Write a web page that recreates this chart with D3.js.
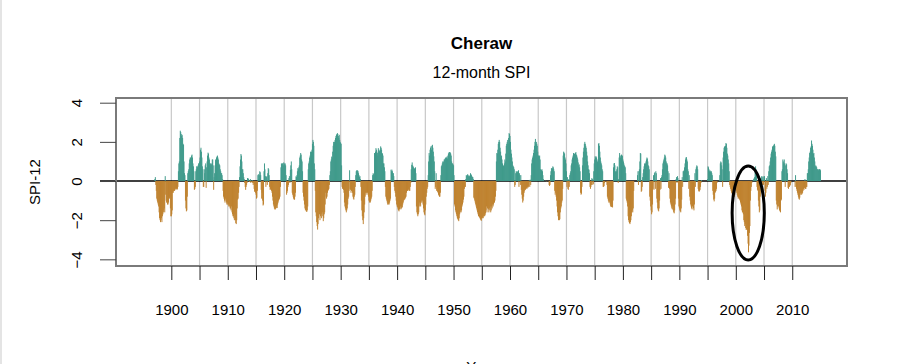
<!DOCTYPE html>
<html>
<head>
<meta charset="utf-8">
<script src="https://cdn.jsdelivr.net/npm/d3@7"></script>
<style>
  body { margin: 0; background: #fff; }
  svg { display: block; font-family: "Liberation Sans", Arial, sans-serif; }
</style>
</head>
<body>
<div id="chart"></div>
<script>
// Monthly SPI-12 values, one block per start month
const spi1897 = [
  0.1,0.2,-0.2,-0.5,-0.9,-1.0,-1.1,-1.2,-1.3,-1.6,-1.9,-2.0,
  -2.1,-2.0,-1.9,-2.1,-1.8,-1.7,-1.6,-1.5,-1.4,-1.6,0.25,-0.7,
  -1.0,-1.1,-1.1,-1.2,-1.2,-1.1,-0.8,-0.9,-0.8,-1.4,-1.8,-1.8,
  -1.7,-1.5,-0.6,-0.6,-0.5,-0.5,-0.5,-0.45,-0.4,-0.35,-0.4,-0.45,
  -0.4,-0.3,0.5,0.9,1.0,2.2,2.57,2.5,2.4,2.3,2.36,2.2,
  1.9,1.85,1.0,0.4,0.3,-1.0,-1.4,-1.55,-1.5,-0.8,0.4,0.5,
  0.6,0.9,1.1,1.2,1.2,1.15,1.3,1.35,1.2,0.9,0.75,0.5,
  -0.45,-0.4,-0.3,0.5,0.6,0.75,0.75,0.7,0.8,0.9,0.9,1.0,
  1.2,1.6,1.7,1.5,1.2,0.75,0.6,-0.3,-0.3,0.6,0.4,0.8,
  0.9,-0.35,0.7,1.0,1.3,1.45,1.4,1.2,1.1,0.9,0.9,0.8,
  0.85,0.9,1.1,1.1,0.8,-0.45,0.2,0.4,0.8,1.1,1.0,1.2,
  1.25,1.3,1.2,1.1,0.9,0.85,0.8,0.6,0.5,0.4,0.4,0.3,
  0.1,-0.5,-0.8,-0.9,-1.0,-1.1,-0.9,-1.0,-1.1,-1.2,-1.1,-1.2,
  -1.2,-1.3,-1.2,-1.3,-1.4,-1.4,-1.5,-1.3,-1.6,-1.7,-1.8,-1.8,
  -1.9,-2.0,-1.7,-2.0,-2.15,-2.2,-2.0,-1.4,-0.95,-0.9,-0.6,-0.3,
  0.2,0.75,1.1,1.38,1.3,1.0,0.6,0.6,0.4,0.2,0.1,-0.1,
  -0.3,-0.45,-0.3,-0.2,-0.1,0.15,0.15,0.1,0.0,-0.05,0.05,0.1,
  -0.1,-0.05,0.0,0.05,-0.1,-0.2,-0.1,-0.4,-0.55,-0.5,-0.6,-0.7,
  -0.9,-0.85,-0.5,0.3,0.35,0.1,0.3,0.5,0.45,0.3,-0.45,-0.9,-0.6
];
const spi1916 = [
  -1.0,-1.25,-1.2, 0.5,0.9,0.6, 0.25,-0.3,0.2,0.25,-0.2, 0.4,0.66,0.6,0.3,
  -0.3,-0.45,-0.4,-0.45,-0.5,-0.6, -0.8,-1.0,-1.2,-1.3,-1.4,-1.45,
  -1.45,-1.4,-1.38,-1.3,-1.38,-1.2,-1.1,-1.0, -0.95,-0.9,-0.8,-0.3,
  0.7,0.9,0.85,0.9,0.9,0.8,0.95,0.9,0.85,0.9,0.8,0.3,
  -0.7,-0.6,-0.5,-0.3, -0.2,0.15,0.25,-0.1, 0.57,0.8,1.0,0.6,
  -0.6,-0.7,-0.8,-0.9,-0.95,-0.95,-0.8,-0.6, 0.24,0.2,0.3, 0.5,0.66,0.6,0.7,0.8,
  1.2,1.3,1.43,1.35,1.1, 1.0,0.5,-0.6, -0.8,-1.0,-1.2,
  -1.4,-1.5,-1.45,-1.55,-1.58,-1.5,-1.3, 0.6,0.9,1.0,1.2, 1.3,1.5,1.45,1.5,1.6,
  1.9,2.1,2.0,1.8, 0.9,0.6,-0.5, -1.6,-1.8,-2.1,-2.3,-2.48,-2.2,-1.9,
  -1.5,-1.7,-2.0,-1.8,-1.6,-1.9,-1.7, -1.6,-1.8,-2.05,-1.9,-1.7,-1.6,-1.2,
  -0.6,-0.8,-0.9,-0.8,-0.6,-0.5,-0.45, -0.4,-0.2,0.3, 0.5,1.0,1.1,1.25,1.2,1.5,
  1.8,2.0,1.9,2.0,2.1,2.2, 2.3,2.36,2.4,2.45,2.4,2.3, 2.2,2.36,2.1,2.0,1.94,
  1.9,0.8,-0.3, -0.4,-0.35,-0.45,-0.6, -1.1,-1.3,-1.4,-1.5,-1.6,-1.5,-1.4,-1.2,-0.9,
  -0.8,-0.5,0.55, -0.4,-0.45,-0.6,-0.5,-0.5, -0.6,-0.8,-0.9,-0.95,-0.8,-0.7,-0.3,
  0.3,0.5,0.55,0.5,0.55,0.5,0.4,0.3,0.2, 0.25,0.1,-0.3,
  -1.0,-1.5,-1.8,-2.0,-2.2,-1.9,-1.6,-1.2,-0.8, -0.6,-0.7,-0.6,-0.5,-0.6,-0.7,-0.8,-1.0,
  -1.1,-1.05,-1.1,-1.0,-0.9,-0.8,-0.5, 0.3,0.4,0.35,0.3
];
const spi1935 = [
  1.43,1.4,1.5, 1.68,1.6,1.5, 1.43,1.3,1.68, 1.6,1.5,1.55, 1.6,1.77,1.7,1.6,1.43,
  1.4,1.3,0.9,0.9, 0.7,0.5,-0.3, -0.8,-0.9,-1.0,-1.1, -1.2,-1.2,-1.15,-1.2,-1.1,-1.0,-0.9,
  0.58,0.5,0.58,0.5,0.4, 0.4,0.25,-0.3, -0.5,-0.6,-0.8,-1.0,-1.2,-1.3,-1.35,-1.45,
  -1.5,-1.55,-1.45,-1.4,-1.3,-1.45, -1.4,-1.3,-1.35,-1.2,-1.1,-1.0,-0.95,
  -0.95,-0.9,-0.85,-0.8,-0.6,-0.5,-0.5, -0.5,-0.45,-0.4,-0.5,-0.5,-0.3,-0.1,
  0.6,0.83,0.95,0.8, 0.75,0.7,0.6,0.65,0.6,0.7,0.4,
  -1.3,-1.6,-1.7,-1.8,-1.7,-1.6,-1.3, -1.1,-1.2,-1.3,-1.1,-1.0,-1.1,-1.0,
  -1.2,-1.4,-1.6,-1.7,-1.75,-1.5,-1.2,-0.8,-0.6, -0.4,-0.3,0.3,1.0,
  1.43,1.3,1.6,1.7,1.77,1.6, 1.8,1.85,1.7,1.5, 1.26,1.0,0.5, -0.4,-0.3,0.4,
  -0.5,-0.4,-0.55,-0.6,-0.7,-0.75,-0.8, -0.8,-0.6,0.3,
  0.75,0.8,0.9,1.0,0.95,1.0,1.1, 1.1,1.15,1.2,1.1,1.2,1.25,1.15,1.3,1.4,1.45,1.48,
  1.48,1.45,1.4,1.3, 1.0,0.9,0.9,0.85,0.8,0.3,
  -1.2,-1.3,-1.5,-1.6,-1.7,-1.8,-1.9,-1.95,-2.0,-2.05,
  -1.9,-1.7,-1.6,-1.5,-1.6,-1.5,-1.3,-1.2,-1.1,-0.95,-0.8, -0.4,-0.3,-0.3,0.1,
  0.3,0.25,0.3,0.35,0.3, 0.25,0.2,0.25,0.3,0.4,0.35,0.3,0.25,0.2,0.2,0.1,
  -0.85,-0.9,-1.0,-1.1,-1.2,-1.3, -1.4,-1.5,-1.6,-1.7,-1.8,-1.8,-1.85,
  -1.9,-1.95,-2.0,-2.03,-1.9,-1.9,-1.85, -1.9,-1.8,-1.7,-1.8,-1.75,-1.65,-1.5
];
const spi1955 = [
  -1.3,-1.6,-1.4,-1.3,-1.45,-1.6,-1.4,-1.5, -1.3,-1.6,-1.5,-1.3,-1.4,-1.2,-1.3,-1.2,-1.1,
  -1.1,-1.0,-0.8,-0.5, 1.0,1.43,1.4,1.6, 1.9,2.0,2.1,2.0,1.7, 1.5,1.2,1.3,1.1,0.9,
  0.75,0.8,0.75,0.9,1.1, 1.0,1.4,1.8,1.9, 2.0,2.1,1.9,2.2, 2.45,2.4,2.3,2.0,
  1.6,1.4,1.2,1.0,0.8, 0.75,0.7,0.6,-0.3, -0.2,0.4,0.5,0.45, 0.5,0.45,0.5,0.55,
  -0.3,0.4,0.3,-0.2, 0.3,-0.45,-0.7,-0.9, -1.1,-1.0,-0.8,-0.6,-0.5,
  -0.4,-0.45,-0.4,-0.35,-0.4,-0.3,-0.35,-0.3,-0.25, 0.05,-0.3,0.07,-0.2,0.3,
  0.9,1.1,1.2,1.3,1.43,1.6, 1.8,2.0,2.15,1.9, 2.0,1.9,1.8,1.5,1.3, 1.3,1.25,1.3,1.1,0.6,
  0.58,0.55,0.6,0.5,0.3,0.1, 0,0,0,0.02,0,0,-0.02,0,0,0,0,-0.2,
  -0.25,-0.2,0.3,0.5, 0.66,0.6,0.65,0.75, 0.7,0.6,0.5,-0.5,-0.7,-0.6,-0.8,-1.0,
  -1.3,-1.6,-1.8,-2.0,-1.9,-2.0,-1.95, -1.6,-1.4,-1.3,-1.1,-1.0,-0.4,
  1.3,1.5,1.45,1.4, 1.2,1.1,0.9,0.5, -0.3,0.2,-0.4,-0.45,0.1, -0.3,0.3,0.4,0.5,0.8,
  0.9,1.1,1.2,1.3,1.43, 1.3,1.4,1.35,1.43,1.48, 1.35,1.3,1.2,1.1,0.95,0.8,
  0.85,0.7,0.5,-0.6, -0.7,-0.65,-0.3,0.8, 1.2,1.5,1.7,1.9,2.0, 1.9,1.8,1.7,1.5,1.3,1.0,0.8,
  0.6,0.58,0.4,-0.3, -0.4,-0.3,-0.2,0.15, 0.1,-0.2,-0.15, 0.5,0.9,1.1,1.26, 1.2,1.26,1.2,1.1,1.0,0.9
];
const spi1975 = [
  1.9,1.94,1.8,1.5, 1.2,1.0,0.9,0.8, 0.6,0.5,-0.3, -0.3,-0.25,-0.1, 0.0,0.0,-0.05,0.0,-0.2,
  -0.8,-0.9,-1.0,-1.1,-1.0,-1.1,-1.2,-1.3,-1.3, -1.33,-1.3,-1.35,-1.0,
  0.7,0.9,0.92,0.8,0.5, 0.45,0.5,0.6,0.75, 0.7,-0.1,0.1, 1.2,1.43,1.3,1.2,1.3,
  1.35,1.2,1.3,1.1,1.0,0.9, 0.8,0.75,0.7,0.4, -0.9,-1.0,-1.1,-1.3,-1.8,
  -2.0,-2.1,-2.15,-2.2,-2.1,-2.0,-1.8, -1.6,-1.5,-1.6,-1.4,-0.5, 0,0,0,0,0,0,0,
  0.3,0.5,-0.2,0.5,0.6,1.0, 1.43,1.4,-0.55,-0.5, -0.3,0.2,0.4,0.6,
  0.75,0.9,0.8,0.9,1.0,1.1, 1.2,1.15,1.0,0.8, 0.75,0.6,-0.8,
  -1.0,-1.3,-1.5,-1.7,-1.6,-1.2,-0.4, 0.3,-0.45,0.4,0.45,-0.4,0.5,0.4,
  -0.9,-1.1,-1.4,-1.5,-1.55, -1.4,-1.0,-0.45,0.15, -0.4,0.2,0.3,0.6,0.9,
  1.0,1.1,1.2,1.35,1.3, 1.2,1.0,0.9,0.9, 0.8,0.5,-0.35,0.4, -0.4,-0.9,-1.1,-1.2,-1.3,
  -1.4,-1.45,-1.3,-1.5, -1.6,-1.65,-1.5,-1.2, -0.9,0.1,0.2,-0.1, 0.25,0.15,-0.9,-1.3,-1.4,
  -1.5,-1.55,-1.6,-1.4, -0.95,0.2,-0.3,0.5, 0.5,0.55,0.7,0.9,1.1,1.2, 1.22,1.1,1.0,0.6,0.5,
  -0.4,0.3,-0.8,-1.0,-1.2,-1.3, -1.4,-1.45,-1.3,-1.2,-1.4,-1.5,-1.2,
  0.4,-0.3,0.6,0.7, 0.8,0.75,0.6,-0.4,-0.5, -0.55,-0.5,-0.45,-0.3,-0.1,
  0.05,0,0,0,0,0,0,0,0,0,0,0,0,0.1
];
const spi1995 = [
  0.75,0.7,0.6,0.5,0.55, 0.5,0.45,0.5,0.4,0.3, -0.5,-0.7,-0.95,-1.04,-0.9,-0.6,
  -0.55,-0.5,-0.4,-0.1, 0,0,0,0,0.05,0.3, 0.9,1.0,0.95,0.8, 0.6,-0.3,1.2,1.5,
  1.7,1.77,1.6, 1.8,1.94,1.9,1.7, 1.4,1.3,1.1,0.9, 0.5,-0.2,-0.3,-0.4,
  -0.5,-0.6,-0.65,-0.7, -0.8,-0.85,-0.75,-0.8,-0.7,-0.2, -0.3,-0.5,-0.6,
  -0.7,-0.8,-0.9,-0.85,-0.9,-0.95, -1.0,-1.1,-1.2,-1.3,-1.5, -1.6,-1.6,-1.7,-2.0,
  -2.1,-2.3,-2.2,-2.4, -2.5,-2.45,-2.5,-2.8,-3.2, -3.64,-3.3, -2.65,-2.3,-1.0,
  -0.5,-0.3,-0.1,0.0, 0.0,0.05,0.1,0.15,0.2,0.5, 0.75,0.6,0.3,
  -0.3,-0.45,-0.5,-1.0, -1.3,-1.6,-1.5,-0.8, 0.15,-0.3,0.25,0.2,-0.2,
  0.25,-0.2,0.2,0.25,-0.5, -0.8,-0.6,0.15,-0.4,-0.3, 0.25,-0.2,0.5,0.75,
  0.8,1.0,1.2,1.4, 1.5,1.6,1.77,1.7,1.8,1.85, 1.9,1.8,1.5,1.26,
  -1.0,-1.2,-1.45,-1.3, -1.1,-1.3,-1.4,-1.5,-1.55,-1.6, -1.0,-0.95,0.5,0.6,
  1.1,1.0,0.9,1.1, 0.9,-0.3,0.8,0.9,0.85,0.6, 0.4,-0.35,-0.4,-0.3,
  -0.3,-0.25,-0.2,-0.1,0.0, 0,0,0,0,0,0,0, -0.3,0.3,-0.3,-0.4,-0.5,
  -0.6,-0.7,-0.8,-0.9,-0.95,-0.85, -0.6,-0.7,-0.6,-0.7,-0.65,-0.6,-0.5,
  -0.4,-0.45,-0.35,0.1,-0.4,-0.4,-0.3, -0.3,0.4,0.4,0.6, 1.0,1.2,1.43,1.5,1.7,
  1.77,2.07,1.9,1.8,1.6, 1.4,1.43,1.2,1.0, 0.75,0.8,0.75,0.7,0.6,
  0.6,0.6,0.55,0.6,0.6,0.6,0.55
];
const blockStarts = ["1897-01", "1916-02", "1935-12", "1955-10", "1975-08", "1995-01"];
const blockValues = [spi1897, spi1916, spi1935, spi1955, spi1975, spi1995];

const yTicks = [-4, -2, 0, 2, 4];
const xTicks = d3.range(1900, 2011, 5);
const chartTitle = "Cheraw";
const chartSubtitle = "12-month SPI";
const yLabel = "SPI-12";
const xLabel = "Year";
// the 2002 drought callout
const callout = {year: 2002.2, spi: -1.63, halfYears: 2.85, halfSpi: 2.4};

// build the monthly series
const series = [];
blockStarts.forEach((s, b) => {
    const [yr, mo] = s.split("-").map(Number);
    blockValues[b].forEach((v, i) => series.push({t: yr + (mo - 1 + i) / 12, v: v}));
});

const W = 917, H = 364;
const box = {left: 116, right: 847, top: 98, bottom: 266};
const teal = "#3f9a8b", brown = "#bf822f";

const svg = d3.select("#chart").append("svg")
    .attr("width", W)
    .attr("height", H);

svg.append("rect").attr("width", W).attr("height", H).attr("fill", "#fff");
svg.append("line")
    .attr("x1", 1).attr("x2", 1).attr("y1", 0).attr("y2", H)
    .attr("stroke", "#e4e4e4").attr("stroke-width", 2);

const x = d3.scaleLinear().domain([1890.2, 2019.7]).range([box.left, box.right]);
const y = d3.scaleLinear().domain([-4.34, 4.24]).range([box.bottom, box.top]);

// vertical grid
svg.append("g").selectAll("line")
    .data(xTicks)
    .join("line")
        .attr("x1", d => x(d)).attr("x2", d => x(d))
        .attr("y1", box.top).attr("y2", box.bottom)
        .attr("stroke", "#c8c8c8")
        .attr("stroke-width", 1.2);

// zero line
svg.append("line")
    .attr("x1", 100).attr("x2", box.right)
    .attr("y1", y(0)).attr("y2", y(0))
    .attr("stroke", "#000")
    .attr("stroke-width", 1.5);

// bars
const step = x(1 / 12) - x(0);
svg.append("g").selectAll("rect")
    .data(series)
    .join("rect")
        .attr("x", d => x(d.t))
        .attr("width", step + 0.5)
        .attr("y", d => y(Math.max(0, d.v)))
        .attr("height", d => Math.abs(y(d.v) - y(0)))
        .attr("fill", d => d.v >= 0 ? teal : brown);

// plot box
svg.append("rect")
    .attr("x", box.left).attr("y", box.top)
    .attr("width", box.right - box.left)
    .attr("height", box.bottom - box.top)
    .attr("fill", "none")
    .attr("stroke", "#7a7a7a")
    .attr("stroke-width", 2);

// x axis
const xAxis = d3.axisBottom(x)
    .tickValues(xTicks)
    .tickSize(14)
    .tickPadding(24)
    .tickFormat(d => d % 10 === 0 ? d : "");
const xAxisG = svg.append("g")
    .attr("transform", `translate(0,${box.bottom})`)
    .call(xAxis);
xAxisG.select(".domain").remove();
xAxisG.selectAll("line").attr("stroke", "#222");
xAxisG.selectAll("text")
    .attr("fill", "#000")
    .style("font-size", "15px")
    .style("font-family", "'Liberation Sans', Arial, sans-serif");

// y axis
const yAxis = d3.axisLeft(y).tickValues(yTicks).tickSize(16);
const yAxisG = svg.append("g")
    .attr("transform", `translate(${box.left},0)`)
    .call(yAxis);
yAxisG.select(".domain").remove();
yAxisG.selectAll("line").attr("stroke", "#444");
yAxisG.selectAll("text")
    .attr("x", 0)
    .attr("dy", "0.36em")
    .attr("text-anchor", "middle")
    .attr("transform", "translate(-39,0) rotate(-90)")
    .attr("fill", "#000")
    .style("font-size", "15px")
    .style("font-family", "'Liberation Sans', Arial, sans-serif");

// callout ellipse
svg.append("ellipse")
    .attr("cx", x(callout.year))
    .attr("cy", y(callout.spi))
    .attr("rx", x(callout.year + callout.halfYears) - x(callout.year))
    .attr("ry", y(callout.spi - callout.halfSpi) - y(callout.spi))
    .attr("fill", "none")
    .attr("stroke", "#000")
    .attr("stroke-width", 3);

// titles and axis labels
const cx = (box.left + box.right) / 2;
svg.append("text")
    .attr("x", cx).attr("y", 49)
    .attr("text-anchor", "middle")
    .style("font-size", "17px").style("font-weight", "bold")
    .text(chartTitle);
svg.append("text")
    .attr("x", cx).attr("y", 78)
    .attr("text-anchor", "middle")
    .style("font-size", "16px")
    .text(chartSubtitle);
svg.append("text")
    .attr("transform", `translate(35,${(box.top + box.bottom) / 2}) rotate(-90)`)
    .attr("dy", "0.36em")
    .attr("text-anchor", "middle")
    .style("font-size", "15px")
    .text(yLabel);
svg.append("text")
    .attr("x", cx).attr("y", 372)
    .attr("text-anchor", "middle")
    .style("font-size", "15px")
    .text(xLabel);
</script>
</body>
</html>
